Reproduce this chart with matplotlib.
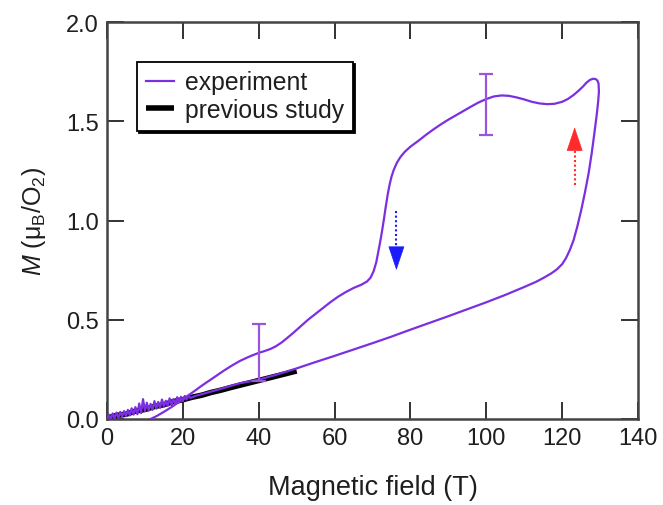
import matplotlib
matplotlib.use("Agg")
import matplotlib.pyplot as plt

plt.rcParams['font.family'] = ['Liberation Sans', 'DejaVu Sans']
plt.rcParams['mathtext.fontset'] = 'custom'
plt.rcParams['mathtext.rm'] = 'Liberation Sans'
plt.rcParams['mathtext.it'] = 'Liberation Sans:italic'

# Experiment, up sweep (field in T, M in muB/O2)
up_field = [0, 0.5, 1, 1.5, 2, 2.5, 3, 3.5, 4, 4.5, 5, 5.5, 6, 6.5, 7, 7.5, 8, 8.5, 9, 9.5,
            10, 10.5, 11, 11.5, 12, 12.5, 13, 13.5, 14, 14.5, 15, 15.5, 16, 16.5, 17, 17.5,
            18, 18.5, 19, 19.5, 20, 20.5, 21, 21.5, 22, 23, 24, 25, 30, 35, 40, 45, 50, 55,
            60, 65, 70, 75, 80, 85, 90, 95, 100, 105, 110, 113, 115, 117, 118.5, 120, 121,
            122, 123, 124, 125, 126, 127, 127.8, 128.5, 129.1, 129.5, 129.7, 129.6]
up_moment = [0.000, 0.022, -0.002, 0.028, 0.004, 0.032, 0.006, 0.036, 0.012, 0.040, 0.014,
             0.046, 0.018, 0.054, 0.022, 0.060, 0.024, 0.078, 0.030, 0.100, 0.040, 0.082,
             0.042, 0.076, 0.046, 0.090, 0.052, 0.086, 0.056, 0.098, 0.062, 0.092, 0.066,
             0.104, 0.072, 0.100, 0.078, 0.110, 0.084, 0.112, 0.090, 0.116, 0.098, 0.118,
             0.106, 0.114, 0.120, 0.125, 0.152, 0.180, 0.198, 0.225, 0.255, 0.287, 0.318,
             0.350, 0.382, 0.415, 0.450, 0.484, 0.518, 0.553, 0.588, 0.625, 0.665, 0.690,
             0.710, 0.732, 0.752, 0.780, 0.810, 0.850, 0.900, 0.970, 1.050, 1.140, 1.240,
             1.340, 1.440, 1.530, 1.600, 1.650, 1.690]

# Experiment, down sweep
down_field = [129.3, 128.8, 128.1, 127.3, 126.4, 125.5, 124.4, 123, 121.5, 120, 118, 116,
              114, 112, 110, 108, 106, 104, 102, 100, 98, 96, 94, 92, 90, 88, 86, 84, 82,
              80, 78.5, 77.3, 76.4, 75.6, 75, 74.5, 74, 73.5, 73, 72.5, 72, 71.5, 71, 70.3,
              69.5, 68.5, 67, 65, 63, 61, 59, 57, 55, 53, 51, 49, 47.5, 46, 44.5, 43, 41.5,
              40, 38.5, 37, 35, 33, 31, 29, 27, 25, 23, 21, 19, 17, 15, 13, 11.5, 10.8]
down_moment = [1.705, 1.713, 1.714, 1.708, 1.694, 1.675, 1.655, 1.632, 1.612, 1.598,
               1.588, 1.586, 1.590, 1.598, 1.610, 1.620, 1.628, 1.630, 1.625, 1.612, 1.595,
               1.574, 1.552, 1.530, 1.508, 1.484, 1.458, 1.430, 1.400, 1.372, 1.346, 1.318,
               1.290, 1.255, 1.220, 1.180, 1.130, 1.070, 1.005, 0.945, 0.890, 0.840, 0.790,
               0.745, 0.712, 0.692, 0.676, 0.660, 0.640, 0.617, 0.590, 0.560, 0.530, 0.500,
               0.466, 0.432, 0.408, 0.385, 0.366, 0.352, 0.342, 0.333, 0.322, 0.310, 0.292,
               0.270, 0.246, 0.220, 0.194, 0.168, 0.140, 0.113, 0.086, 0.060, 0.036, 0.014,
               0.000, -0.008]

# Previous study
prev_field = [0, 2.5, 5, 7.5, 10, 12.5, 15, 17.5, 20, 22.5, 25, 27.5, 30, 32.5, 35, 37.5,
              40, 42.5, 45, 47.5, 50]
prev_moment = [0.004, 0.018, 0.024, 0.040, 0.048, 0.063, 0.072, 0.088, 0.097, 0.110, 0.120,
               0.134, 0.145, 0.158, 0.170, 0.182, 0.194, 0.206, 0.218, 0.230, 0.242]

# Error bars
err_field = [40, 100]
err_center = [0.335, 1.585]
err_size = [0.145, 0.155]

# Sweep arrows (field, start M, end M)
down_arrow = (76.3, 1.05, 0.75)
up_arrow = (123.3, 1.18, 1.47)

purple = '#7b2fe0'
txt = '#1e1e1e'

fig = plt.figure(figsize=(6.63, 5.06), dpi=100)
ax = fig.add_axes([107/663, 1 - 420/506, (638-107)/663, (420-23)/506])

ax.plot(prev_field, prev_moment, color='black', lw=4, solid_capstyle='butt',
        label='previous study', zorder=2)
ax.plot(up_field + down_field, up_moment + down_moment, color=purple, lw=1.6,
        label='experiment', zorder=3)
ax.errorbar(err_field, err_center, yerr=err_size, fmt='none', ecolor='#9a55e0',
            elinewidth=1.6, capsize=5, capthick=1.6, zorder=3)

for (x, y0, y1), col in [(down_arrow, '#1b1bff'), (up_arrow, '#ff2a2a')]:
    hl = 0.11 if y1 > y0 else -0.11
    ax.plot([x, x], [y0, y1 - hl], color=col, lw=1.5, ls=(0, (1, 1.2)), zorder=4)
    ax.annotate('', xy=(x, y1), xytext=(x, y1 - hl),
                arrowprops=dict(arrowstyle='-|>,head_length=0.8,head_width=0.27',
                                mutation_scale=20, color=col, lw=0.5,
                                shrinkA=0, shrinkB=0), zorder=4)

ax.set_xlim(0, 140)
ax.set_ylim(0, 2.0)
ax.set_xticks([0, 20, 40, 60, 80, 100, 120, 140])
ax.set_yticks([0.0, 0.5, 1.0, 1.5, 2.0])
ax.set_yticklabels(['0.0', '0.5', '1.0', '1.5', '2.0'])
ax.tick_params(direction='in', length=12, width=1.3, top=True, right=True,
               labelsize=17, labelcolor=txt, color='#222222', pad=6)
for s in ax.spines.values():
    s.set_linewidth(1.8)
    s.set_color('#444444')

ax.set_xlabel('Magnetic field (T)', fontsize=19.5, color=txt, labelpad=18)
ax.set_ylabel(r'$M$ (μ$_{\rm B}$/O$_2$)', fontsize=18, color=txt, labelpad=13)

handles, labels = ax.get_legend_handles_labels()
leg = ax.legend(handles[::-1], labels[::-1], loc='upper left',
                bbox_to_anchor=(0.057, 0.90), fontsize=17.8, frameon=True,
                fancybox=False, edgecolor='black', handlelength=1.15,
                borderpad=0.35, labelspacing=0.15, handletextpad=0.45,
                borderaxespad=0, shadow={'ox': 1.5, 'oy': -1.5, 'color': 'black', 'alpha': 1})
leg.get_frame().set_linewidth(1.3)
for t in leg.get_texts():
    t.set_color(txt)

fig.savefig('out.png', dpi=100)
